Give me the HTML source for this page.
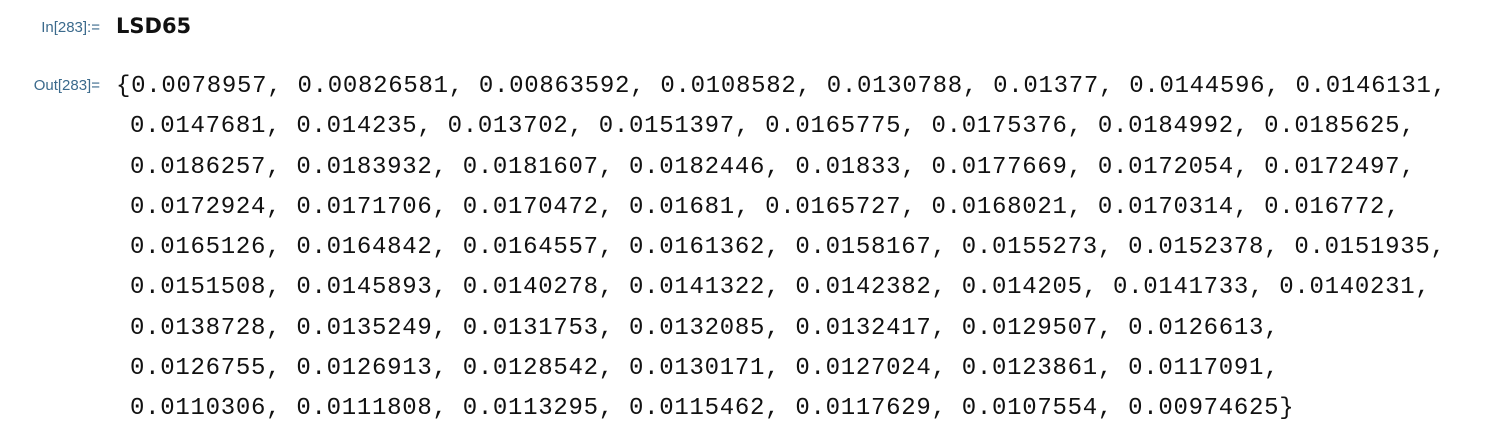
<!DOCTYPE html>
<html><head><meta charset="utf-8"><style>
body{margin:0;width:1504px;height:448px;background:#fff;position:relative;overflow:hidden}
.lab{position:absolute;font-family:"Liberation Sans",sans-serif;font-size:15px;color:#3b6a8c;right:1404px;white-space:nowrap}
.in{position:absolute;left:116px;top:14px;font-family:"DejaVu Sans","Liberation Sans",sans-serif;font-weight:bold;font-size:21px;color:#111}
.ln{position:absolute;font-family:"Liberation Mono",monospace;font-size:24px;letter-spacing:0.72px;color:#111;white-space:pre;line-height:36px}
</style></head><body>
<div class="lab" style="top:19px">In[283]:=</div>
<div class="in">LSD65</div>
<div class="lab" style="top:77px">Out[283]=</div>
<div class="ln" style="left:116px;top:69px">{0.0078957, 0.00826581, 0.00863592, 0.0108582, 0.0130788, 0.01377, 0.0144596, 0.0146131,</div>
<div class="ln" style="left:130px;top:109px">0.0147681, 0.014235, 0.013702, 0.0151397, 0.0165775, 0.0175376, 0.0184992, 0.0185625,</div>
<div class="ln" style="left:130px;top:150px">0.0186257, 0.0183932, 0.0181607, 0.0182446, 0.01833, 0.0177669, 0.0172054, 0.0172497,</div>
<div class="ln" style="left:130px;top:190px">0.0172924, 0.0171706, 0.0170472, 0.01681, 0.0165727, 0.0168021, 0.0170314, 0.016772,</div>
<div class="ln" style="left:130px;top:230px">0.0165126, 0.0164842, 0.0164557, 0.0161362, 0.0158167, 0.0155273, 0.0152378, 0.0151935,</div>
<div class="ln" style="left:130px;top:270px">0.0151508, 0.0145893, 0.0140278, 0.0141322, 0.0142382, 0.014205, 0.0141733, 0.0140231,</div>
<div class="ln" style="left:130px;top:311px">0.0138728, 0.0135249, 0.0131753, 0.0132085, 0.0132417, 0.0129507, 0.0126613,</div>
<div class="ln" style="left:130px;top:351px">0.0126755, 0.0126913, 0.0128542, 0.0130171, 0.0127024, 0.0123861, 0.0117091,</div>
<div class="ln" style="left:130px;top:391px">0.0110306, 0.0111808, 0.0113295, 0.0115462, 0.0117629, 0.0107554, 0.00974625}</div>
</body></html>
